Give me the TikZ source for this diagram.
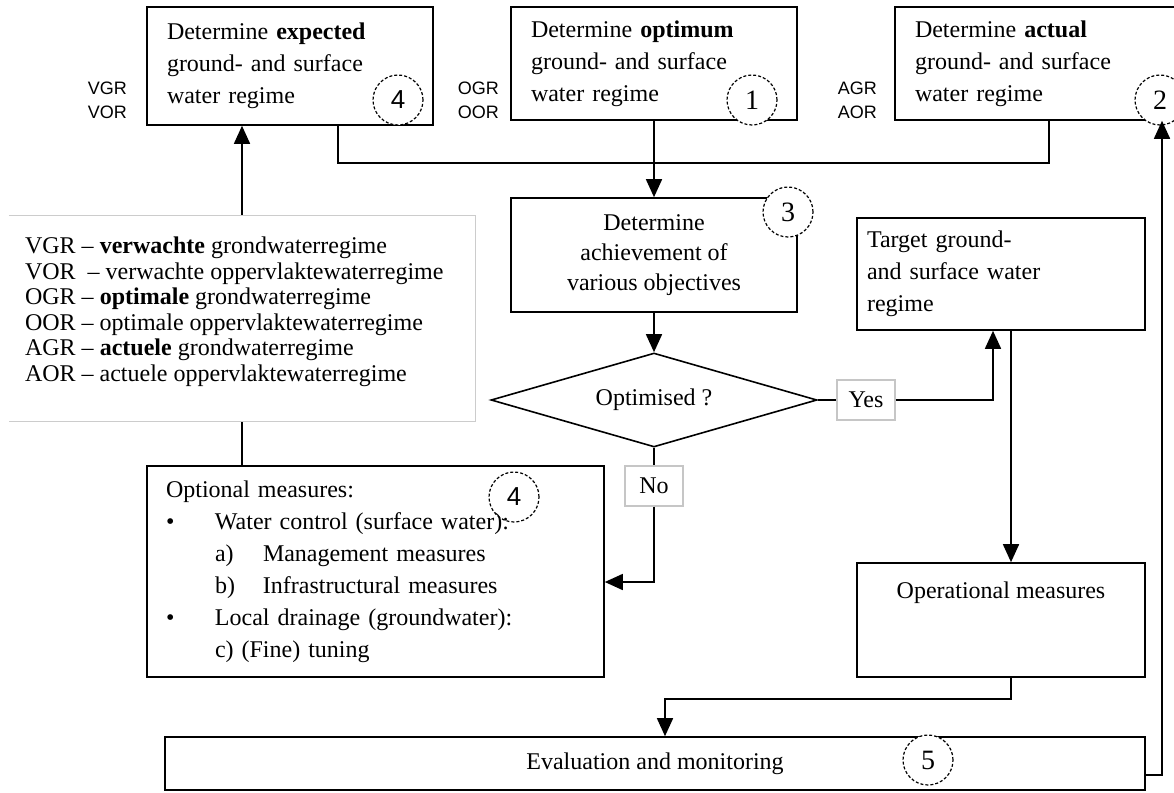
\documentclass[tikz,border=0pt]{standalone}
\usepackage{fontspec}
\setmainfont{Liberation Serif}
\setsansfont{Liberation Sans}
\usetikzlibrary{positioning,shapes.geometric,arrows.meta}

\begin{document}
\begin{tikzpicture}[x=1pt,y=-1pt,
    every node/.style={font=\fontsize{24}{32}\selectfont},
    box/.style={draw,line width=1.6pt,inner sep=0pt},
    lbox/.style={box,align=left,inner xsep=20pt},
    num/.style={draw,circle,dash pattern=on 3pt off 2pt,line width=1.2pt,minimum size=50pt,inner sep=0pt,fill=white,font=\fontsize{28}{30}\selectfont},
    tag/.style={draw=gray!45,line width=1.2pt,fill=white,minimum width=58pt,minimum height=40pt,inner sep=0pt},
    abbr/.style={font=\sffamily\fontsize{18}{24}\selectfont,align=right,anchor=east,inner sep=0pt},
    conn/.style={line width=1.6pt},
    arr/.style={conn,-{Triangle[length=18pt,width=16pt]}}]
\useasboundingbox (0,0) rectangle (1174,792);

\node[lbox,text width=246pt,minimum height=118pt] (expected) at (290,66) {Determine \textbf{expected}\\ground- and surface\\water regime};
\node[lbox,text width=246pt,minimum height=113pt] (optimum) at (654,63.5) {Determine \textbf{optimum}\\ground- and surface\\water regime};
\node[lbox,text width=268pt,minimum height=113pt] (actual) at (1049,63.5) {Determine \textbf{actual}\\ground- and surface\\water regime};
\node[abbr] (vlabel) at (127,100) {VGR\\VOR};
\node[abbr] (olabel) at (499,100) {OGR\\OOR};
\node[abbr] (alabel) at (877,100) {AGR\\AOR};

\node[box,align=center,minimum width=286pt,minimum height=114pt,font=\fontsize{24}{30}\selectfont] (achieve) at (654,255) {Determine\\achievement of\\various objectives};
\node[box,diamond,aspect=3.5,minimum width=326pt,minimum height=94pt] (decision) at (654,400) {Optimised ?};
\node[tag] (yes) at (866,400) {Yes};
\node[tag] (no) at (654,486) {No};
\node[lbox,inner xsep=10pt,text width=268pt,minimum height=112pt] (target) at (1001,274) {Target ground-\\and surface water\\regime};
\node[box,minimum width=288pt,minimum height=114pt] (ops) at (1001,620) {};
\node[below=19pt of ops.north,inner sep=0pt] (opstext) {Operational measures};

\node[minimum width=466pt,minimum height=205pt,inner sep=0pt] (legend) at (242,318.5) {};
\node[below right=21pt and 16pt of legend.north west,inner sep=0pt,align=left,font=\fontsize{24}{25.5}\selectfont] (legendtext)
  {VGR -- \textbf{verwachte} grondwaterregime\\
   VOR \ -- verwachte oppervlaktewaterregime\\
   OGR -- \textbf{optimale} grondwaterregime\\
   OOR -- optimale oppervlaktewaterregime\\
   AGR -- \textbf{actuele} grondwaterregime\\
   AOR -- actuele oppervlaktewaterregime};

\node[lbox,inner xsep=19pt,text width=419pt,minimum height=211pt] (optional) at (375.5,571.5)
  {Optional measures:\\
   \makebox[49pt][l]{\textbullet}Water control (surface water):\\
   \hspace*{49pt}\makebox[48pt][l]{a)}Management measures\\
   \hspace*{49pt}\makebox[48pt][l]{b)}Infrastructural measures\\
   \makebox[49pt][l]{\textbullet}Local drainage (groundwater):\\
   \hspace*{49pt}c) (Fine) tuning};
\node[box,minimum width=980pt,minimum height=53pt] (eval) at (655,763.5) {Evaluation and monitoring};

\node[num,font=\sffamily\fontsize{26}{28}\selectfont] (n4a) at (398,100) {4};
\node[num] (n1) at (752,100) {1};
\node[num] (n2) at (1160,100) {2};
\node[num] (n3) at (788,212) {3};
\node[num,fill=none,font=\sffamily\fontsize{26}{28}\selectfont] (n4b) at (514,497) {4};
\node[num] (n5) at (928,760) {5};

\draw[conn] ([xshift=48pt]expected.south) -- ++(0,37) -| (actual.south);
\draw[arr] (optimum) -- (achieve);
\draw[arr] (achieve) -- (decision);
\draw[conn] (decision) -- (yes);
\draw[arr] (yes) -| ([xshift=-8pt]target.south);
\draw[conn] (decision) -- (no);
\draw[arr] (no) |- ([yshift=-10.5pt]optional.east);
\draw[arr] ([xshift=10pt]target.south) -- ([xshift=10pt]ops.north);
\draw[arr] ([xshift=10pt]ops.south) -- ++(0,21) -| ([xshift=10pt]eval.north);
\draw[arr] ([yshift=-11.5pt]eval.east) -| ([xshift=113pt]actual.south);
\draw[arr] (legend.north) -- (legend.north |- expected.south);
\draw[conn] (legend.south) -- (legend.south |- optional.north);
\draw[gray!40,line width=1.2pt] (legend.north west) -- (legend.north east) -- (legend.south east) -- (legend.south west);
\end{tikzpicture}
\end{document}
